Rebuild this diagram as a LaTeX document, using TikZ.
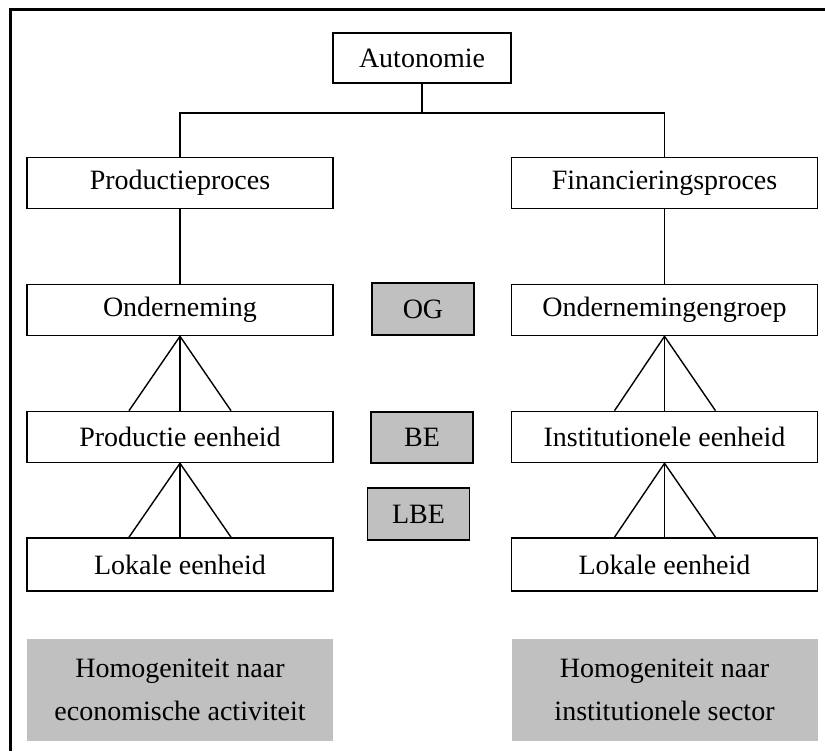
\documentclass[tikz,border=0pt]{standalone}
\usepackage{fontspec}
\setmainfont{Liberation Serif}
\definecolor{unitgray}{HTML}{C0C0C0}
\tikzset{
  unitbox/.style={draw,line width=.8pt,fill=white,inner sep=0pt,
    minimum width=153pt,minimum height=25.5pt,font=\fontsize{14}{17}\selectfont},
  codebox/.style={draw,line width=.8pt,fill=unitgray,inner sep=0pt,
    minimum width=51pt,minimum height=25.5pt,font=\fontsize{14}{17}\selectfont},
  notebox/.style={fill=unitgray,inner sep=0pt,align=center,
    minimum width=153pt,minimum height=51pt,font=\fontsize{14}{21.5}\selectfont},
}

\begin{document}
\begin{tikzpicture}[x=.5pt,y=-.5pt,line width=.7pt]
  \useasboundingbox (0,0) rectangle (825,751);
  \draw[line width=1.5pt] (10,751) -- (10,9) -- (825,9);

  \node[unitbox,minimum width=89pt,minimum height=25pt] (auto) at (422,58) {Autonomie};
  \coordinate (split) at (422,113);

  \node[unitbox] (prod) at (180,183) {Productieproces};
  \node[unitbox] (fin) at (664.5,183) {Financieringsproces};

  \node[unitbox] (ond) at (180,310) {Onderneming};
  \node[unitbox] (peh) at (180,437) {Productie eenheid};
  \node[unitbox,minimum height=26.5pt] (lokl) at (180,564.5) {Lokale eenheid};

  \node[unitbox] (grp) at (664.5,310) {Ondernemingengroep};
  \node[unitbox] (inst) at (664.5,437) {Institutionele eenheid};
  \node[unitbox,minimum height=26.5pt] (lokr) at (664.5,564.5) {Lokale eenheid};

  \node[codebox,minimum height=26pt] (og) at (423,309) {OG};
  \node[codebox] (be) at (422,437.5) {BE};
  \node[codebox,minimum height=26pt] (lbe) at (418.5,514) {LBE};

  \node[notebox] (homl) at (180,690) {Homogeniteit naar\\economische activiteit};
  \node[notebox] (homr) at (664.5,690) {Homogeniteit naar\\institutionele sector};

  \draw (auto) -- (split);
  \draw (prod.north) |- (split) -| (fin.north);
  \draw (prod) -- (ond);
  \draw (fin) -- (grp);

  \draw ([xshift=-25.5pt]peh.north) -- (ond.south) -- ([xshift=25.5pt]peh.north);
  \draw (ond.south) -- (peh.north);
  \draw ([xshift=-25.5pt]lokl.north) -- (peh.south) -- ([xshift=25.5pt]lokl.north);
  \draw (peh.south) -- (lokl.north);

  \draw ([xshift=-25pt]inst.north) -- (grp.south) -- ([xshift=25.5pt]inst.north);
  \draw (grp.south) -- (inst.north);
  \draw ([xshift=-25pt]lokr.north) -- (inst.south) -- ([xshift=25.5pt]lokr.north);
  \draw (inst.south) -- (lokr.north);
\end{tikzpicture}
\end{document}
